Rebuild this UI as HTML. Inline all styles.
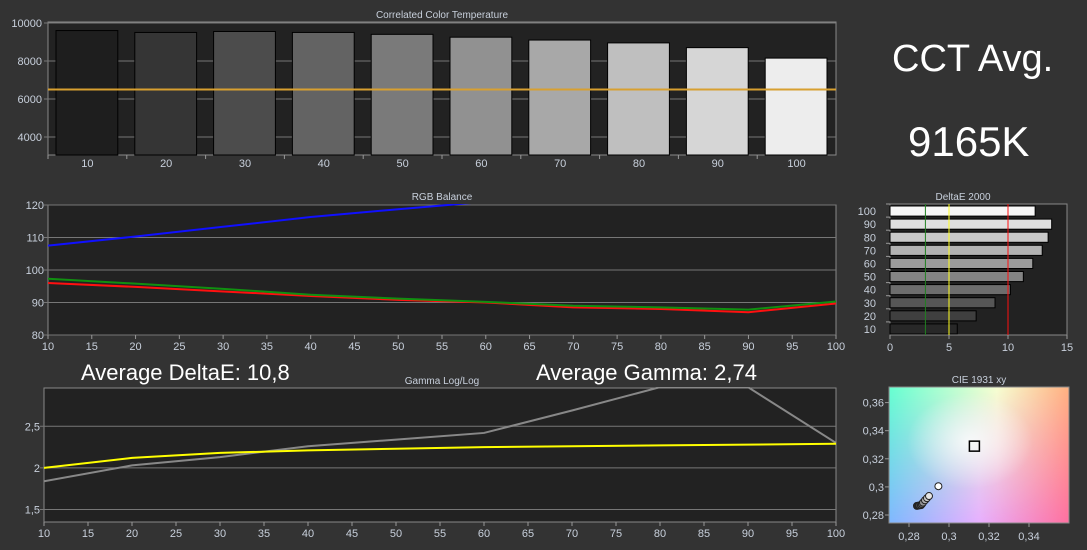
<!DOCTYPE html>
<html><head><meta charset="utf-8"><style>
body{margin:0;width:1087px;height:550px;background:#333;overflow:hidden;font-family:"Liberation Sans",sans-serif}
svg{position:absolute;left:0;top:0}
.big{position:absolute;color:#fff;font-family:"Liberation Sans",sans-serif}
</style></head><body>
<svg id="s" width="1087" height="550">
<defs>
<clipPath id="cieClip"><rect x="889" y="387" width="180" height="136"/></clipPath>
<clipPath id="rgbClip"><rect x="48" y="204" width="788" height="132"/></clipPath>
<clipPath id="gamClip"><rect x="44" y="387" width="792" height="136"/></clipPath>
<linearGradient id="cieA" x1="0" y1="0" x2="1" y2="0"><stop offset="0" stop-color="#66ffd0"/><stop offset="0.6" stop-color="#f6ffd0"/><stop offset="1" stop-color="#ffb080"/></linearGradient>
<linearGradient id="cieB" x1="0" y1="0" x2="1" y2="0"><stop offset="0" stop-color="#80b8ff"/><stop offset="0.5" stop-color="#e8b0ff"/><stop offset="1" stop-color="#ff70a0"/></linearGradient>
<linearGradient id="cieV" x1="0" y1="0" x2="0" y2="1"><stop offset="0" stop-color="#fff" stop-opacity="1"/><stop offset="1" stop-color="#fff" stop-opacity="0"/></linearGradient>
<mask id="cieM"><rect x="889" y="387" width="180" height="136" fill="url(#cieV)"/></mask>
<radialGradient id="cieW" cx="0.45" cy="0.4" r="0.35"><stop offset="0" stop-color="#fff" stop-opacity="0.8"/><stop offset="1" stop-color="#fff" stop-opacity="0"/></radialGradient>
</defs>
</svg>
<div class="big" style="left:892px;top:38px;font-size:38px">CCT Avg.</div>
<div class="big" style="left:908px;top:118px;font-size:42px">9165K</div>
<div class="big" style="left:81px;top:360px;font-size:22px">Average DeltaE: 10,8</div>
<div class="big" style="left:536px;top:360px;font-size:22px">Average Gamma: 2,74</div>
<script>
const cctCats=[10,20,30,40,50,60,70,80,90,100];
const cctVals=[9600,9500,9550,9500,9400,9250,9100,8950,8700,8150];
const cctTicks=[4000,6000,8000,10000];
const cctTarget=6500;
const rgbX=[10,20,30,40,50,60,70,80,90,100];
const rgbRed=[96,94.8,93.4,92,90.8,90,88.5,88,87,89.7];
const rgbGreen=[97.3,95.8,94.2,92.4,91.2,90.2,89,88.5,87.8,90.3];
const rgbBlue=[107.5,110.3,113.3,116.3,118.7,121,122,123,124,125];
const rgbYTicks=[80,90,100,110,120];
const xTicks=[10,15,20,25,30,35,40,45,50,55,60,65,70,75,80,85,90,95,100];
const gamX=[10,20,30,40,50,60,70,80,90,100];
const gamMeasured=[1.84,2.03,2.13,2.26,2.34,2.42,2.69,2.97,2.97,2.3];
const gamTarget=[2.0,2.12,2.18,2.21,2.23,2.25,2.26,2.27,2.28,2.29];
const gamYTicks=[1.5,2,2.5];
const deCats=[10,20,30,40,50,60,70,80,90,100];
const deVals=[5.7,7.3,8.9,10.2,11.3,12.1,12.9,13.4,13.7,12.3];
const deXTicks=[0,5,10,15];
const deLines=[3,5,10];
const cieTarget=[0.3127,0.329];
const ciePtsX=[0.284,0.285,0.286,0.2865,0.287,0.288,0.289,0.290,0.2947];
const ciePtsY=[0.2865,0.2868,0.287,0.2878,0.2888,0.2905,0.292,0.2935,0.3005];
const cieXTicks=[0.28,0.3,0.32,0.34];
const cieYTicks=[0.28,0.3,0.32,0.34,0.36];

const S=document.getElementById('s');
const NS='http://www.w3.org/2000/svg';
function mk(t,a,p){const e=document.createElementNS(NS,t);for(const k in a)e.setAttribute(k,a[k]);(p||S).appendChild(e);return e;}
function txt(x,y,s,anchor,size,p){const e=mk('text',{x:x,y:y,'text-anchor':anchor||'middle','font-size':size||11,fill:'#c8d0dc','font-family':'Liberation Sans, sans-serif'},p);e.textContent=s;return e;}
const fmt=v=>String(v).replace('.',',');

// ---- CCT chart
{const L=48,R=836,T=22,B=155,lo=3050,hi=10050;
const y=v=>B-(v-lo)/(hi-lo)*(B-T);const cw=(R-L)/cctCats.length;
let bg=mk('rect',{x:L,y:T,width:R-L,height:B-T,fill:'#222',stroke:'#888'});


cctTicks.forEach(t=>{mk('line',{x1:L-4,x2:R,y1:y(t),y2:y(t),stroke:'#777'});txt(L-6,y(t)+4,t,'end',11);});
const t0=txt(442,18,'Correlated Color Temperature','middle',10);


cctCats.forEach((c,i)=>{const g=Math.round(30+i*23);const col=`rgb(${g},${g},${g})`;
const b=mk('rect',{x:L+i*cw+8,y:y(cctVals[i]),width:cw-17,height:B-y(cctVals[i]),fill:col,stroke:'#000'});


mk('line',{x1:L+i*cw,x2:L+i*cw,y1:B,y2:B+4,stroke:'#999'});
txt(L+i*cw+cw/2,B+12,c,'middle',11);});
const tl=mk('line',{x1:L,x2:R,y1:y(cctTarget),y2:y(cctTarget),stroke:'#d8a030','stroke-width':2});

}

// ---- line chart helper
function lineChart(L,R,T,B,lo,hi,yT,title,titleY,clip,series,name){
const x=v=>L+(v-10)/90*(R-L);const y=v=>B-(v-lo)/(hi-lo)*(B-T);
const bg=mk('rect',{x:L,y:T,width:R-L,height:B-T,fill:'#222',stroke:'#888'});


yT.forEach(t=>{mk('line',{x1:L-4,x2:R,y1:y(t),y2:y(t),stroke:'#777'});txt(L-4,y(t)+4,fmt(t),'end',11);});
xTicks.forEach(t=>{mk('line',{x1:x(t),x2:x(t),y1:B,y2:B+4,stroke:'#999'});txt(x(t),B+15,t,'middle',11);});
const tt=txt(442,titleY,title,'middle',10);


series.forEach(s=>{const p=mk('polyline',{points:s.xs.map((v,i)=>x(v)+','+y(s.ys[i])).join(' '),fill:'none',stroke:s.c,'stroke-width':s.w,'clip-path':'url(#'+clip+')'});

});}
lineChart(48,836,205,335,80,120,rgbYTicks,'RGB Balance',200,'rgbClip',[
{xs:rgbX,ys:rgbBlue,c:'#1010ff',w:2,n:'blue-line'},
{xs:rgbX,ys:rgbRed,c:'#ff1010',w:2,n:'red-line'},
{xs:rgbX,ys:rgbGreen,c:'#109010',w:2,n:'green-line'}],'rgb');
lineChart(44,836,388,522,1.35,2.96,gamYTicks,'Gamma Log/Log',384,'gamClip',[
{xs:gamX,ys:gamMeasured,c:'#888',w:2,n:'gamma-measured-line'},
{xs:gamX,ys:gamTarget,c:'#ffff00',w:2,n:'gamma-target-line'}],'gamma');

// ---- DeltaE
{const L=890,R=1067,T=204,B=335;const x=v=>L+v/15*(R-L);const rh=(B-T)/deCats.length;
const bg=mk('rect',{x:L,y:T,width:R-L,height:B-T,fill:'#222',stroke:'#888'});


const t=txt(963,200,'DeltaE 2000','middle',10);


deCats.forEach((c,i)=>{const yy=B-(i+1)*rh;const g=Math.round(40+i*23);
const b=mk('rect',{x:L,y:yy+2,width:x(deVals[i])-L,height:rh-3,fill:`rgb(${g},${g},${g})`,stroke:'#000'});


txt(L-14,yy+rh-2,c,'end',11);mk('line',{x1:L-4,x2:L,y1:yy,y2:yy,stroke:'#999'});});
deXTicks.forEach(v=>{mk('line',{x1:x(v),x2:x(v),y1:B,y2:B+4,stroke:'#999'});txt(x(v),B+16,v,'middle',11);});
['#208020','#ffff20','#ff1010'].forEach((c,i)=>{const l=mk('line',{x1:x(deLines[i]),x2:x(deLines[i]),y1:T,y2:B,stroke:c});

});}

// ---- CIE
{const L=889,R=1069,T=387,B=523,x0=0.27,x1=0.36,y0=0.2743,y1=0.3711;
const x=v=>L+(v-x0)/(x1-x0)*(R-L);const y=v=>B-(v-y0)/(y1-y0)*(B-T);
const b=mk('rect',{x:L,y:T,width:R-L,height:B-T,fill:'url(#cieB)'});


mk('rect',{x:L,y:T,width:R-L,height:B-T,fill:'url(#cieA)',mask:'url(#cieM)'});
mk('rect',{x:L,y:T,width:R-L,height:B-T,fill:'url(#cieW)'});
mk('rect',{x:L,y:T,width:R-L,height:B-T,fill:'none',stroke:'#888'});
const t=txt(979,383,'CIE 1931 xy','middle',10);


cieXTicks.forEach(v=>{mk('line',{x1:x(v),x2:x(v),y1:B,y2:B+4,stroke:'#999'});txt(x(v),B+17,fmt(v),'middle',11);});
cieYTicks.forEach(v=>{mk('line',{x1:L-4,x2:L,y1:y(v),y2:y(v),stroke:'#999'});txt(L-5,y(v)+4,fmt(v),'end',11);});
const sq=mk('rect',{x:x(cieTarget[0])-5,y:y(cieTarget[1])-5,width:10,height:10,fill:'none',stroke:'#000','stroke-width':1.5});


ciePtsX.forEach((v,i)=>{const g=Math.round(40+i*27);const c=mk('circle',{cx:x(v),cy:y(ciePtsY[i]),r:3.5,fill:`rgb(${g},${g},${g})`,stroke:'#222'});

});}
</script>
</body></html>
